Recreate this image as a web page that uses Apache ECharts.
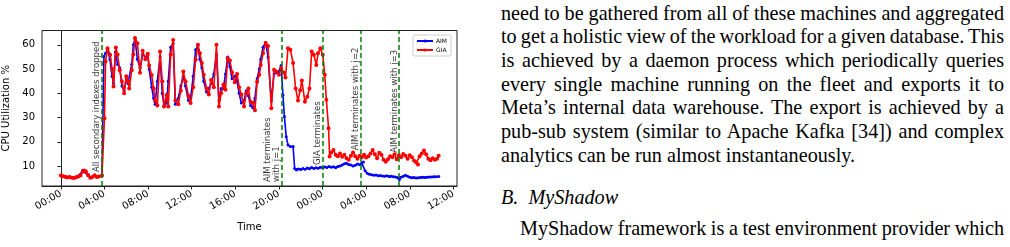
<!DOCTYPE html>
<html>
<head>
<meta charset="utf-8">
<script src="https://cdn.jsdelivr.net/npm/echarts@6.0.0/dist/echarts.min.js"></script>
<style>
html, body { margin: 0; padding: 0; background: #fff; width: 1010px; height: 247px; overflow: hidden; }
#container { position: absolute; left: 0; top: 0; width: 480px; height: 247px; }
.txt { position: absolute; left: 501px; width: 503px; font-family: 'Liberation Serif', 'Times New Roman', serif; font-size: 20.2px; color: #000; }
.ln { height: 23.7px; line-height: 23.7px; white-space: nowrap; text-align: justify; text-align-last: justify; word-spacing: -2px; }
.ln.last { text-align-last: left; word-spacing: 0; }
</style>
</head>
<body>
<div id="container"></div>

<div class="txt" style="top:1.5px">
  <div class="ln">need to be gathered from all of these machines and aggregated</div>
  <div class="ln">to get a holistic view of the workload for a given database. This</div>
  <div class="ln">is achieved by a daemon process which periodically queries</div>
  <div class="ln">every single machine running on the fleet and exports it to</div>
  <div class="ln">Meta’s internal data warehouse. The export is achieved by a</div>
  <div class="ln">pub-sub system (similar to Apache Kafka [34]) and complex</div>
  <div class="ln last">analytics can be run almost instantaneously.</div>
</div>
<div class="txt" style="top:185.5px">
  <div class="ln last"><span style="font-style:italic">B.&nbsp;&nbsp;MyShadow</span></div>
</div>
<div class="txt" style="top:216.5px">
  <div class="ln" style="padding-left:19px">MyShadow framework is a test environment provider which</div>
</div>

<script>
var dom = document.getElementById('container');
var myChart = echarts.init(dom, null, { renderer: 'canvas' });

// x in hours since the first 00:00
var xTicks = [0, 4, 8, 12, 16, 20, 24, 28, 32, 36];
var yTicks = [10, 20, 30, 40, 50, 60];

var eventHours = [3.77, 20.25, 24.02, 27.5, 31.03];
var eventLabels = ['All secondary indexes dropped', 'AIM terminates\nwith j=1', 'GIA terminates', 'AIM terminates with j=2', 'AIM terminates with j=3'];
var eventLabelY = [8.3, 4.2, 11.2, 17.3, 16.3];

var aimData = [
    [0.0, 6.2], [0.2, 5.9], [0.4, 5.5], [0.6, 5.4], [0.8, 5.6], [1.0, 5.3], [1.2, 5.1], [1.4, 5.5], [1.6, 5.9], [1.8, 6.6],
    [2.0, 8.2], [2.15, 8.0], [2.3, 7.2], [2.5, 6.0], [2.7, 5.3], [2.9, 5.6], [3.1, 6.0], [3.3, 5.4], [3.5, 5.8], [3.77, 6.0],
    [3.95, 55.2], [4.1, 56.5], [4.28, 58], [4.5, 54], [4.7, 47], [4.83, 44], [5.0, 57], [5.2, 52], [5.4, 50.5], [5.6, 43],
    [5.8, 41], [6.0, 46], [6.15, 44], [6.27, 43.5], [6.5, 52], [6.65, 60], [6.8, 62.5], [7.02, 54], [7.26, 50.5], [7.5, 56],
    [7.75, 55], [7.97, 55.5], [8.1, 50], [8.33, 42.5], [8.5, 38], [8.64, 35.5], [8.85, 45], [9.1, 55], [9.3, 40], [9.46, 35],
    [9.7, 36], [9.85, 45], [10.07, 59], [10.3, 60.5], [10.5, 35.5], [10.77, 38], [11.0, 43], [11.23, 47], [11.43, 43], [11.7, 37],
    [11.9, 38], [12.14, 47], [12.36, 58], [12.57, 59.5], [12.75, 54], [12.93, 50.5], [13.1, 45], [13.36, 40.5], [13.57, 42], [13.78, 44],
    [14.03, 48], [14.27, 56], [14.5, 37], [14.7, 42], [14.9, 42], [15.1, 48], [15.3, 55], [15.5, 51], [15.7, 46], [15.95, 47],
    [16.16, 45], [16.35, 40], [16.55, 36], [16.8, 37], [17.0, 41], [17.2, 39], [17.4, 35], [17.6, 34], [17.8, 38], [18.0, 46],
    [18.2, 50], [18.33, 54], [18.54, 59], [18.78, 61], [19.0, 55], [19.3, 37], [19.55, 48], [19.75, 48.5], [20.0, 49], [20.2, 51.5],
    [20.37, 39.3], [20.5, 30.4], [20.67, 22.1], [20.83, 18.7], [21.05, 18.0], [21.3, 18.0], [21.44, 9.0], [21.6, 8.4], [21.8, 8.8], [22.0, 8.6],
    [22.2, 9.0], [22.4, 8.7], [22.6, 9.2], [22.8, 8.9], [23.0, 9.4], [23.2, 9.0], [23.4, 9.3], [23.6, 9.1], [23.8, 9.5], [24.0, 9.3],
    [24.2, 9.6], [24.4, 9.4], [24.6, 9.8], [24.8, 9.5], [25.0, 9.7], [25.2, 9.3], [25.4, 9.8], [25.6, 10.0], [25.8, 10.4], [26.0, 10.9],
    [26.2, 11.1], [26.4, 10.6], [26.6, 10.4], [26.8, 10.0], [27.0, 10.3], [27.2, 10.8], [27.4, 10.5], [27.6, 11.2], [27.75, 11.6], [27.9, 8.0],
    [28.1, 7.0], [28.3, 6.6], [28.5, 6.4], [28.7, 6.2], [28.9, 6.3], [29.1, 6.0], [29.3, 6.1], [29.5, 5.9], [29.7, 5.8], [29.9, 6.0],
    [30.1, 5.7], [30.3, 5.8], [30.5, 5.6], [30.7, 5.5], [30.9, 5.2], [31.05, 4.4], [31.2, 5.4], [31.4, 5.8], [31.6, 6.2], [31.8, 5.8],
    [32.0, 5.4], [32.2, 5.2], [32.4, 5.3], [32.6, 5.1], [32.8, 5.2], [33.0, 5.3], [33.2, 5.4], [33.4, 5.3], [33.6, 5.4], [33.8, 5.5],
    [34.0, 5.5], [34.2, 5.6], [34.4, 5.6], [34.65, 5.7]
];

var giaData = [
    [0.0, 6.1], [0.2, 5.8], [0.4, 5.6], [0.6, 5.3], [0.8, 5.5], [1.0, 5.2], [1.2, 5.0], [1.4, 5.4], [1.6, 5.7], [1.8, 6.1],
    [2.0, 7.6], [2.15, 8.1], [2.3, 7.7], [2.5, 6.3], [2.7, 5.2], [2.9, 5.5], [3.1, 6.2], [3.3, 5.5], [3.5, 5.7], [3.77, 6.1],
    [4.0, 29.7], [4.1, 53.1], [4.28, 58.6], [4.52, 55.9], [4.7, 50], [4.83, 42.8], [5.04, 58.9], [5.2, 56], [5.4, 49.5], [5.6, 45],
    [5.8, 40], [6.0, 47], [6.15, 45], [6.27, 42], [6.5, 49.5], [6.65, 56], [6.8, 62.8], [7.02, 60.6], [7.26, 48.5], [7.5, 57.5],
    [7.75, 54], [7.97, 56.3], [8.1, 51.5], [8.33, 47.5], [8.5, 42], [8.64, 37], [8.85, 35], [9.1, 57.2], [9.3, 45], [9.46, 34.5],
    [9.7, 39.3], [9.85, 34.5], [10.07, 56], [10.3, 62], [10.5, 37], [10.77, 35.5], [11.0, 41], [11.23, 49], [11.43, 45], [11.7, 39],
    [11.9, 36], [12.14, 42.5], [12.36, 53.8], [12.57, 60], [12.75, 56.5], [12.93, 52.5], [13.1, 47.6], [13.36, 42], [13.57, 39.5], [13.78, 45.5],
    [14.03, 42.5], [14.27, 60], [14.5, 34.5], [14.7, 40], [14.9, 43.5], [15.1, 41.5], [15.3, 54.5], [15.5, 53.5], [15.7, 48.7], [15.95, 44.5],
    [16.16, 48], [16.35, 42.5], [16.55, 39.5], [16.8, 34.5], [17.0, 40], [17.2, 42], [17.4, 36.5], [17.6, 36], [17.8, 33], [18.0, 44.8],
    [18.2, 47.6], [18.33, 51.7], [18.54, 56.5], [18.78, 60.7], [19.0, 59.5], [19.3, 33.8], [19.55, 49.7], [19.75, 49], [20.0, 47.6], [20.2, 50.4],
    [20.46, 48.5], [20.6, 46.5], [20.83, 58.6], [21.05, 58], [21.3, 52.5], [21.53, 42], [21.75, 37], [21.95, 41.3], [22.1, 45.3], [22.38, 36.5],
    [22.6, 38.6], [22.8, 42], [23.0, 57.2], [23.2, 55.9], [23.43, 51.7], [23.58, 56.5], [23.8, 58.6], [24.02, 55.9], [24.2, 47.6], [24.35, 37.3],
    [24.55, 25.6], [24.65, 13.9], [24.8, 15.6], [25.0, 16.6], [25.2, 14.6], [25.4, 14.0], [25.6, 15.2], [25.8, 13.8], [26.0, 14.6], [26.2, 13.2],
    [26.4, 12.6], [26.6, 14.2], [26.8, 15.6], [27.0, 14.0], [27.2, 13.0], [27.4, 14.2], [27.6, 13.6], [27.8, 14.6], [28.0, 13.5], [28.2, 14.0],
    [28.4, 15.2], [28.6, 16.6], [28.8, 14.8], [29.0, 13.2], [29.2, 15.5], [29.4, 14.6], [29.6, 12.6], [29.8, 11.8], [30.0, 12.8], [30.2, 14.0],
    [30.4, 13.6], [30.6, 14.8], [30.8, 12.8], [31.0, 14.4], [31.2, 13.6], [31.4, 15.0], [31.6, 14.2], [31.8, 13.0], [32.0, 14.4], [32.2, 13.6],
    [32.4, 12.2], [32.6, 11.4], [32.75, 10.6], [32.9, 14.0], [33.1, 15.2], [33.3, 16.4], [33.5, 14.8], [33.7, 13.0], [33.9, 12.4], [34.1, 13.2],
    [34.3, 12.6], [34.5, 13.0], [34.65, 14.2]
];

var FONT = 'DejaVu Sans';

function hourLabel(v) {
    var h = ((Math.round(v) % 24) + 24) % 24;
    return (h < 10 ? '0' : '') + h + ':00';
}

var option = {
    animation: false,
    grid: {
        left: 42, right: 23, top: 30.5, bottom: 61,
        show: true, borderColor: '#222', borderWidth: 1,
        containLabel: false, outerBoundsMode: 'none'
    },
    legend: {
        data: ['AIM', 'GIA'],
        orient: 'vertical',
        left: 413, top: 35,
        itemWidth: 16, itemHeight: 4, itemGap: 3,
        padding: [3, 4, 3, 3],
        borderColor: '#cccccc', borderWidth: 1, borderRadius: 2,
        backgroundColor: 'rgba(255,255,255,0.8)',
        textStyle: { fontSize: 6, fontFamily: FONT, color: '#000', padding: [0, 0, 0, -2] }
    },
    xAxis: {
        type: 'value',
        min: -1.73, max: 36.33,
        name: 'Time', nameLocation: 'middle', nameGap: 36,
        nameTextStyle: { fontSize: 10, fontFamily: FONT, color: '#000' },
        axisLine: { show: true, onZero: false, lineStyle: { color: '#222', width: 1 } },
        axisTick: { show: true, length: 3.5, customValues: xTicks, lineStyle: { color: '#222' } },
        axisLabel: {
            customValues: xTicks, rotate: 30, margin: 7,
            fontSize: 10, fontFamily: FONT, color: '#000',
            formatter: hourLabel
        },
        splitLine: { show: false }
    },
    yAxis: {
        type: 'value',
        min: 1.75, max: 65.9,
        name: 'CPU Utilization %', nameLocation: 'middle', nameGap: 24,
        nameTextStyle: { fontSize: 10, fontFamily: FONT, color: '#000' },
        axisLine: { show: true, lineStyle: { color: '#222', width: 1 } },
        axisTick: { show: true, length: 3.5, customValues: yTicks, lineStyle: { color: '#222' } },
        axisLabel: { customValues: yTicks, margin: 7, fontSize: 10, fontFamily: FONT, color: '#000' },
        splitLine: { show: false }
    },
    series: [
        {
            name: 'AIM', type: 'line', data: aimData,
            color: '#0000ff',
            lineStyle: { width: 1.6, color: '#0000ff' },
            itemStyle: { color: '#0000ff' },
            symbol: 'circle', symbolSize: 3, showAllSymbol: true,
            z: 2
        },
        {
            name: 'GIA', type: 'line', data: giaData,
            color: '#ff0000',
            lineStyle: { width: 1.6, color: '#ff0000' },
            itemStyle: { color: '#ff0000' },
            symbol: 'circle', symbolSize: 4, showAllSymbol: true,
            z: 3
        },
        {
            name: 'events', type: 'scatter',
            data: eventHours.map(function (h, i) {
                return { value: [h, eventLabelY[i]], label: { formatter: eventLabels[i] } };
            }),
            symbolSize: 0, silent: true, z: 5,
            label: {
                show: true, position: [0, 0], rotate: 90,
                align: 'left', verticalAlign: 'bottom',
                offset: [-2, 0], lineHeight: 9.5,
                fontSize: 8.5, fontFamily: FONT, color: '#000'
            },
            markLine: {
                silent: true, symbol: 'none',
                label: { show: false },
                lineStyle: { type: [5, 3], color: '#008000', width: 1.5 },
                data: eventHours.map(function (h) { return { xAxis: h }; })
            }
        }
    ]
};

myChart.setOption(option);
window.addEventListener('resize', myChart.resize);
</script>
</body>
</html>
